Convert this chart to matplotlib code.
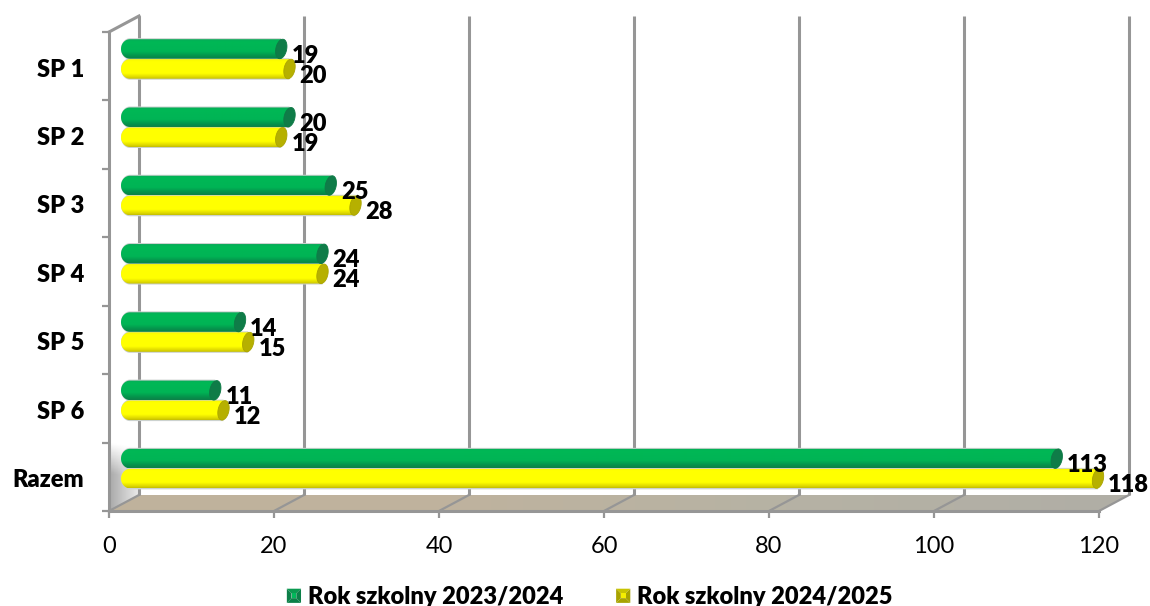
import numpy as np
import matplotlib
matplotlib.use('Agg')
import matplotlib.pyplot as plt
from matplotlib.colors import LinearSegmentedColormap
from matplotlib.legend_handler import HandlerBase
from matplotlib.lines import Line2D
from matplotlib.patches import Polygon

plt.rcParams['font.family'] = ['Lato', 'DejaVu Sans']

# dane
categories = ['SP 1', 'SP 2', 'SP 3', 'SP 4', 'SP 5', 'SP 6', 'Razem']
rok_2023 = [19, 20, 25, 24, 14, 11, 113]
rok_2024 = [20, 19, 28, 24, 15, 12, 118]
x_ticks = [0, 20, 40, 60, 80, 100, 120]
legend_labels = ['Rok szkolny 2023/2024', 'Rok szkolny 2024/2025']

W, H = 1150, 606
fig = plt.figure(figsize=(W / 100, H / 100), dpi=100)
ax = fig.add_axes([109 / W, (H - 511) / H, 990 / W, 479 / H])
ax.set_facecolor('none')

PX = 120 / 990      # jednostki x na piksel
PY = 7 / 479        # jednostki y na piksel
wall_dx = 30 * PX   # glebokosc sciany tylnej
wall_dy = 16 * PY
bar_dx = 15.5 * PX
grid_c = '#969696'
text_weight = 'heavy'


def bar_outline(x0, x1, y0, y1):
    # lewy koniec zaokraglony, prawy plaski (przykrywa go elipsa)
    t = np.linspace(-np.pi / 2, np.pi / 2, 40)
    rx = 9 * PX
    yc = (y0 + y1) / 2
    ry = (y1 - y0) / 2
    left_x = x0 + rx - rx * np.cos(t)
    left_y = yc + ry * np.sin(t)
    xs = np.r_[left_x, x1, x1]
    ys = np.r_[left_y, y1, y0]
    return np.c_[xs, ys]


def draw_bar(val, y0, y1, cmap, cap_c, cap_edge):
    x0 = bar_dx - 3.5 * PX
    x1 = val + bar_dx
    halo = Polygon(bar_outline(x0, x1, y0 - 1 * PY, y1 + 1 * PY), closed=True,
                   fc='#ccd2cf', ec='none', zorder=3, clip_on=False)
    ax.add_patch(halo)
    body = Polygon(bar_outline(x0, x1, y0, y1), closed=True, fc='none', ec='none',
                   zorder=4, clip_on=False)
    ax.add_patch(body)
    grad = np.linspace(0, 1, 64).reshape(-1, 1)
    im = ax.imshow(grad, extent=(x0, x1, y1, y0), cmap=cmap, aspect='auto',
                   zorder=4, interpolation='bilinear')
    im.set_clip_path(body)
    im.set_clip_box(fig.bbox)
    # denko walca
    t = np.linspace(0, 2 * np.pi, 60)
    rx, ry = 5.5 * PX, (y1 - y0) / 2
    yc = (y0 + y1) / 2
    ex = x1 + rx * np.cos(t) - 1.5 * PX * np.sin(t)
    ey = yc + ry * np.sin(t)
    ax.add_patch(Polygon(np.c_[ex, ey], closed=True, fc=cap_c, ec=cap_edge, lw=0.6,
                         zorder=5, clip_on=False))


class PyramidHandler(HandlerBase):
    # kwadracik legendy w stylu fazowanego slupka
    def __init__(self, light, mid, dark):
        super().__init__()
        self.light, self.mid, self.dark = light, mid, dark

    def create_artists(self, legend, orig, xd, yd, width, height, fontsize, trans):
        s = 10.2
        x0 = -xd + (width - s) / 2
        y0 = -yd + (height - s) / 2 - 0.4
        x1, y1 = x0 + s, y0 + s
        b = 3.4
        parts = [
            ([(x0, y1), (x1, y1), (x1 - b, y1 - b), (x0 + b, y1 - b)], self.mid),
            ([(x0, y0), (x1, y0), (x1 - b, y0 + b), (x0 + b, y0 + b)], self.dark),
            ([(x0, y0), (x0, y1), (x0 + b, y1 - b), (x0 + b, y0 + b)], self.dark),
            ([(x1, y0), (x1, y1), (x1 - b, y1 - b), (x1 - b, y0 + b)], self.dark),
            ([(x0 + b, y0 + b), (x1 - b, y0 + b), (x1 - b, y1 - b), (x0 + b, y1 - b)], self.light),
        ]
        return [Polygon(p, closed=True, fc=c, ec='none', transform=trans) for p, c in parts]


green_cmap = LinearSegmentedColormap.from_list(
    'g', [(0, '#08a858'), (0.12, '#00b855'), (0.62, '#00b455'), (0.88, '#068f4a'), (1, '#0c8048')])
yellow_cmap = LinearSegmentedColormap.from_list(
    'y', [(0, '#f6f600'), (0.12, '#ffff00'), (0.72, '#ffff00'), (0.92, '#dcd600'), (1, '#c4be00')])

y_pos = np.arange(len(categories))
bar_h = 19.5 * PY

# podloga
floor = Polygon([(0, 7), (120, 7), (120 + wall_dx, 7 - wall_dy), (wall_dx, 7 - wall_dy)],
                closed=True, fc='none', ec='none', zorder=1, clip_on=False)
ax.add_patch(floor)
floor_cmap = LinearSegmentedColormap.from_list('f', ['#c0b29c', '#bfb29e', '#b6b2a4', '#b0aea6'])
im_f = ax.imshow(np.linspace(0, 1, 128).reshape(1, -1), extent=(0, 120 + wall_dx, 7, 7 - wall_dy),
                 cmap=floor_cmap, aspect='auto', zorder=1)
im_f.set_clip_path(floor)
im_f.set_clip_box(fig.bbox)

# sciana boczna - cieniowanie tylko przy dole
wall = Polygon([(0, 7), (wall_dx, 7 - wall_dy), (wall_dx, 6.0), (0, 6.0)],
               closed=True, fc='none', ec='none', zorder=1, clip_on=False)
ax.add_patch(wall)
gx, gy = np.meshgrid(np.linspace(0, 1, 48), np.linspace(0, 1, 48))
wall_img = np.ones((48, 48, 4))
wall_img[..., :3] = (0.66 + 0.26 * gx)[..., None]
wall_img[..., 3] = np.clip(gy * 2.2 - 0.15 * gx, 0, 1)
im_w = ax.imshow(wall_img, extent=(0, wall_dx, 7, 6.0), aspect='auto', zorder=1, origin='upper')
im_w.set_clip_path(wall)
im_w.set_clip_box(fig.bbox)

# siatka
for v in x_ticks:
    ax.plot([v + wall_dx, v + wall_dx], [-wall_dy, 7 - wall_dy], color=grid_c, lw=2.2,
            zorder=2, clip_on=False, solid_capstyle='butt')
    ax.plot([v, v + wall_dx], [7, 7 - wall_dy], color=grid_c, lw=1.6, zorder=2, clip_on=False)
ax.plot([0, wall_dx], [0, -wall_dy], color=grid_c, lw=2.2, zorder=2, clip_on=False)

# slupki i etykiety
for i in y_pos:
    g0 = i + 7.2 * PY - i * 0.15 * PY
    y0 = g0 + 20 * PY
    draw_bar(rok_2023[i], g0, g0 + bar_h, green_cmap, '#0f7c48', '#0e7a46')
    draw_bar(rok_2024[i], y0, y0 + bar_h, yellow_cmap, '#b6b000', '#aaa400')
    for val, y in ((rok_2023[i], g0), (rok_2024[i], y0)):
        ax.annotate(str(val), (val + bar_dx + 6 * PX, y + bar_h / 2), xytext=(3, -4.8),
                    textcoords='offset points', ha='left', va='center', fontsize=17,
                    fontweight=text_weight, color='black', zorder=8, annotation_clip=False)

ax.set_xlim(0, 120)
ax.set_ylim(7, 0)

for s in ('top', 'right'):
    ax.spines[s].set_visible(False)
for s in ('left', 'bottom'):
    ax.spines[s].set_color(grid_c)
    ax.spines[s].set_linewidth(2.2)
    ax.spines[s].set_zorder(6)

ax.set_xticks(x_ticks)
ax.tick_params(axis='x', length=5, width=1.6, color=grid_c, labelsize=17, pad=13)
ax.set_yticks(np.arange(8))
ax.set_yticklabels([])
ax.tick_params(axis='y', which='major', length=5, width=1.6, color=grid_c)
ax.set_yticks(y_pos + 0.52, minor=True)
ax.set_yticklabels(categories, minor=True, fontsize=17, fontweight=text_weight)
ax.tick_params(axis='y', which='minor', length=0, pad=18)

handles = [Line2D([], []), Line2D([], [])]
handler_map = {
    handles[0]: PyramidHandler('#00b85a', '#0a9a50', '#0c7f48'),
    handles[1]: PyramidHandler('#f5ee00', '#c8c400', '#a8a300'),
}
fig.legend(handles, legend_labels, handler_map=handler_map, loc='center',
           bbox_to_anchor=(587.5 / W, 1 - 596.5 / H), ncols=2,
           frameon=False, columnspacing=2.03, handletextpad=0.1, handlelength=1.0,
           prop={'size': 17, 'weight': text_weight})

fig.savefig('out.png', dpi=100)
